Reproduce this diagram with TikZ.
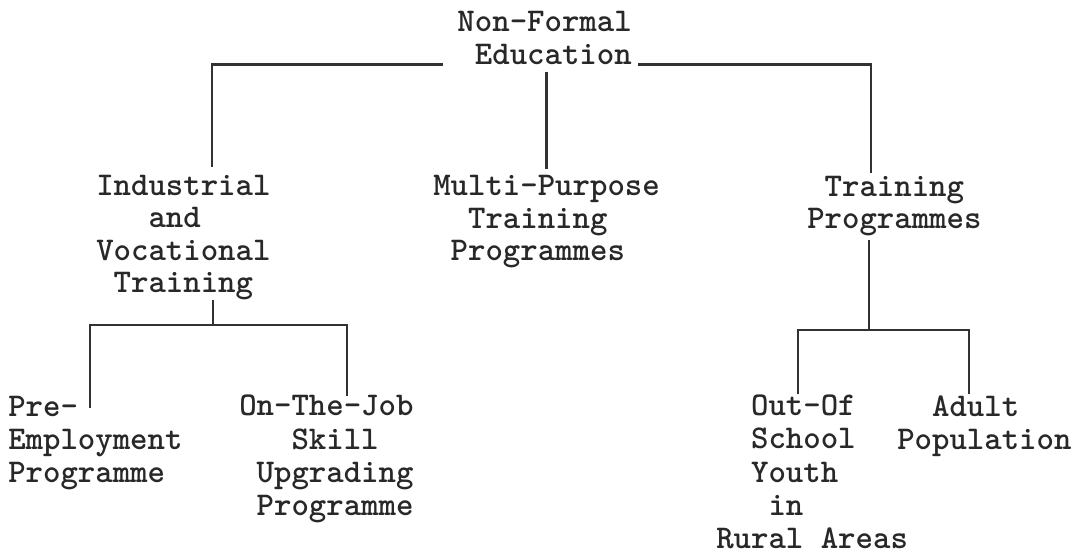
\documentclass[tikz,border=0pt]{standalone}
\usepackage{tikz}
\usetikzlibrary{calc}
\definecolor{inkgray}{RGB}{40,40,40}
\definecolor{linegray}{RGB}{50,50,50}
\newcommand{\twfont}[1]{\fontsize{23.6}{#1}\selectfont\ttfamily\bfseries}

\begin{document}
\begin{tikzpicture}[x=0.025cm, y=-0.025cm,
  entry/.style={font=\twfont{22.76pt}, text=inkgray, align=left, inner sep=0pt, anchor=base west},
  deepentry/.style={entry, font=\twfont{23.47pt}},
  link/.style={draw=linegray, line width=1.6pt}]
  \path[use as bounding box, fill=white] (0,0) rectangle (1080,554);

  % Root
  \node[entry, align=right, anchor=base east] (nfe) at (632,64) {Non-Formal\\Education};

  % Second level
  \node[entry] (ivt) at (96,292) {Industrial\\\hphantom{xxx}and\\Vocational\\\hphantom{x}Training};
  \node[entry] (mpt) at (433,260) {Multi-Purpose\\\hphantom{xx}Training\\\hphantom{x}Programmes};
  \node[entry] (tp) at (807,228) {\hphantom{x}Training\\Programmes};

  % Third level
  \node[deepentry] (pre) at (8,482) {Pre-\\Employment\\Programme};
  \node[deepentry] (ojt) at (239,515) {On-The-Job\\\hphantom{xxx}Skill\\\hphantom{x}Upgrading\\\hphantom{x}Programme};
  \node[deepentry] (osy) at (716,548) {\hphantom{xx}Out-Of\\\hphantom{xx}School\\\hphantom{xx}Youth\\\hphantom{xxx}in\\Rural Areas};
  \node[deepentry] (adp) at (897,449) {\hphantom{xx}Adult\\Population};

  % Root to second level
  \draw[link] ($(nfe.south west)+(-14,0)$) -| ($(ivt.north west)+(116,-8)$);
  \draw[link] ($(nfe.south -| mpt.north)+(0,8)$) -- ($(mpt.north)+(0,-6)$);
  \draw[link] ($(nfe.south east)+(6,0)$) -| ($(tp.north west)+(64,-2)$);

  % Second level to third level
  \coordinate (busL) at (213,325);
  \coordinate (busR) at (869,330);
  \draw[link] (ivt.south -| busL) -- (busL);
  \draw[link] ($(pre.north west)+(82,13)$) |- (busL) -| ($(ojt.north west)+(108,1)$);
  \draw[link] ($(tp.south -| busR)+(0,4)$) -- (busR);
  \draw[link] ($(osy.north west)+(82,-1)$) |- (busR) -| ($(adp.north west)+(72,-1)$);
\end{tikzpicture}
\end{document}
